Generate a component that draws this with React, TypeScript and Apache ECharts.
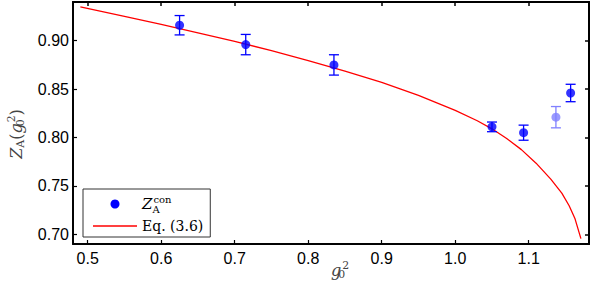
import React, { useEffect, useRef } from "react";
import * as echarts from "echarts";

// measured data Z_A^con
const gx = [0.625, 0.715, 0.835, 1.05, 1.093, 1.157];
const zA = [0.916, 0.896, 0.875, 0.811, 0.805, 0.846];
const zErr = [0.01, 0.0105, 0.0105, 0.005, 0.0078, 0.009];
// faded point
const gxFaded = [1.137];
const zFaded = [0.821];
const errFaded = [0.011];
// Eq. (3.6) curve
const eqX = [0.49, 0.55, 0.6, 0.65, 0.7, 0.75, 0.8, 0.85, 0.9, 0.95, 1.0, 1.03, 1.05, 1.07, 1.09, 1.11, 1.13, 1.145, 1.155, 1.163, 1.171];
const eqY = [0.935, 0.9251, 0.9168, 0.9082, 0.8993, 0.8897, 0.8795, 0.8685, 0.857, 0.8435, 0.828, 0.8173, 0.809, 0.799, 0.7875, 0.7735, 0.757, 0.7425, 0.7295, 0.716, 0.6955];
const xTicks = [0.5, 0.6, 0.7, 0.8, 0.9, 1.0, 1.1];
const yTicks = [0.7, 0.75, 0.8, 0.85, 0.9];

const SANS = "Liberation Sans";
const SERIF = "DejaVu Serif";

const GRID = { left: 73, right: 10, top: 2, bottom: 40 };
const W = 599;
const H = 284;

function errRender(color: string) {
  return (params: any, api: any) => {
    const x = api.value(0);
    const y = api.value(1);
    const e = api.value(2);
    const t = api.coord([x, y + e]);
    const b = api.coord([x, y - e]);
    const hw = 5;
    const st = { stroke: color, lineWidth: 1.3 };
    return {
      type: "group",
      children: [
        { type: "line", shape: { x1: t[0], y1: t[1], x2: b[0], y2: b[1] }, style: st },
        { type: "line", shape: { x1: t[0] - hw, y1: t[1], x2: t[0] + hw, y2: t[1] }, style: st },
        { type: "line", shape: { x1: b[0] - hw, y1: b[1], x2: b[0] + hw, y2: b[1] }, style: st },
      ],
    };
  };
}

const nameRich = (color: string, size: number) => ({
  i: { fontFamily: SERIF, fontStyle: "italic", fontSize: size, fill: color, color, lineHeight: 24, verticalAlign: "middle" },
  r: { fontFamily: SERIF, fontSize: size, fill: color, color, lineHeight: 24, verticalAlign: "middle" },
  A: { fontFamily: SERIF, fontSize: size * 0.68, fill: color, color, lineHeight: 24, verticalAlign: "bottom", padding: [0, 0, 2, 0] },
  sub: { fontFamily: SERIF, fontSize: size * 0.68, fill: color, color, lineHeight: 24, verticalAlign: "bottom", width: 1, padding: [0, 0, 2, 0] },
  sup: { fontFamily: SERIF, fontSize: size * 0.68, fill: color, color, lineHeight: 24, verticalAlign: "top", padding: [2, 0, 0, 0] },
});

export default function App() {
  const ref = useRef<HTMLDivElement>(null);
  useEffect(() => {
    if (!ref.current) return;
    const chart = echarts.init(ref.current, null, { renderer: "svg" });
    chart.setOption({
      animation: false,
      grid: {
        ...GRID,
        outerBoundsMode: "none",
        show: true,
        borderColor: "#000",
        borderWidth: 1.5,
      },
      xAxis: [
        {
          type: "value",
          position: "bottom",
          min: 0.48,
          max: 1.182,
          axisLine: { show: true, onZero: false, lineStyle: { color: "#000", width: 1.5 } },
          axisTick: { show: true, inside: true, length: 4, lineStyle: { color: "#000", width: 1.2 }, customValues: xTicks },
          axisLabel: {
            show: true,
            margin: 6,
            fontFamily: SANS,
            fontSize: 16,
            color: "#000",
            customValues: xTicks,
            formatter: (v: number) => v.toFixed(1),
          },
          splitLine: { show: false },
        },
        {
          type: "value",
          position: "top",
          min: 0.48,
          max: 1.182,
          axisLine: { show: true, lineStyle: { color: "#000", width: 2 } },
          axisTick: { show: true, inside: true, length: 4, lineStyle: { color: "#000", width: 1.5 } },
          axisLabel: { show: false },
          splitLine: { show: false },
        },
      ],
      yAxis: [
        {
          type: "value",
          position: "left",
          min: 0.69,
          max: 0.94,
          axisLine: { show: true, onZero: false, lineStyle: { color: "#000", width: 1.5 } },
          axisTick: { show: true, inside: true, length: 4, lineStyle: { color: "#000", width: 1.2 }, customValues: yTicks },
          axisLabel: {
            show: true,
            margin: 4,
            fontFamily: SANS,
            fontSize: 16,
            color: "#000",
            customValues: yTicks,
            formatter: (v: number) => v.toFixed(2),
          },
          splitLine: { show: false },
        },
        {
          type: "value",
          position: "right",
          min: 0.69,
          max: 0.94,
          axisLine: { show: true, lineStyle: { color: "#000", width: 2 } },
          axisTick: { show: true, inside: true, length: 4, lineStyle: { color: "#000", width: 1.5 } },
          axisLabel: { show: false },
          splitLine: { show: false },
        },
      ],
      graphic: [
        {
          type: "rect",
          z: 100,
          silent: true,
          shape: {
            x: GRID.left,
            y: GRID.top,
            width: W - GRID.left - GRID.right,
            height: H - GRID.top - GRID.bottom,
          },
          style: { fill: "none", stroke: "#000", lineWidth: 1.5 },
        },
        {
          type: "text",
          x: 16,
          y: 134,
          rotation: Math.PI / 2,
          style: {
            text: "{i|Z}{A|A}{r|(}{i|g}{sub|0}{sup|2}{r|)}",
            rich: nameRich("#444", 16),
            align: "center",
            verticalAlign: "middle",
          },
        },
        {
          type: "text",
          x: 340,
          y: 270,
          style: {
            text: "{i|g}{sub|0}{sup|2}",
            rich: nameRich("#444", 16),
            align: "center",
            verticalAlign: "middle",
          },
        },
      ],
      legend: {
        left: 83,
        top: 189,
        orient: "vertical",
        backgroundColor: "#fff",
        borderColor: "#333",
        borderWidth: 1,
        borderRadius: 0,
        padding: [3, 7, 4, 10],
        itemGap: 3,
        itemWidth: 44,
        itemHeight: 9,
        data: [
          { name: "Zcon", icon: "circle" },
          { name: "Eq. (3.6)", icon: "path://M0,0H44V1.3H0Z" },
        ],
        formatter: (n: string) => (n === "Zcon" ? "{z|Z}{sub|A}{sup|con}" : "{t|" + n + "}"),
        textStyle: {
          rich: {
            z: { fontFamily: SERIF, fontStyle: "italic", fontSize: 15, color: "#000", lineHeight: 24, verticalAlign: "middle" },
            sub: { fontFamily: SERIF, fontSize: 10, color: "#000", lineHeight: 24, verticalAlign: "bottom", width: 1, padding: [0, 0, 2, 0] },
            sup: { fontFamily: SERIF, fontSize: 10, color: "#000", lineHeight: 24, verticalAlign: "top", padding: [2, 0, 0, 0] },
            t: { fontFamily: SERIF, fontSize: 14, color: "#000", lineHeight: 18 },
          },
        },
      },
      series: [
        {
          name: "Eq. (3.6)",
          type: "line",
          data: eqX.map((x, i) => [x, eqY[i]]),
          symbol: "none",
          smooth: false,
          lineStyle: { color: "#ff0000", width: 1.3 },
          itemStyle: { color: "#ff0000" },
          z: 2,
        },
        {
          name: "Zcon",
          type: "custom",
          renderItem: errRender("#0000ff"),
          data: gx.map((x, i) => [x, zA[i], zErr[i]]),
          encode: { x: 0, y: 1 },
          itemStyle: { color: "#0000ff" },
          z: 3,
        },
        {
          name: "faded-err",
          type: "custom",
          renderItem: errRender("#8080ff"),
          data: gxFaded.map((x, i) => [x, zFaded[i], errFaded[i]]),
          encode: { x: 0, y: 1 },
          z: 3,
        },
        {
          name: "Zcon",
          type: "scatter",
          data: gx.map((x, i) => [x, zA[i]]),
          symbol: "circle",
          symbolSize: 9,
          itemStyle: { color: "#0000ff" },
          z: 4,
        },
        {
          name: "faded",
          type: "scatter",
          data: gxFaded.map((x, i) => [x, zFaded[i]]),
          symbol: "circle",
          symbolSize: 9,
          itemStyle: { color: "#8080ff" },
          z: 4,
        },
        {
          name: "frame",
          type: "line",
          xAxisIndex: 1,
          yAxisIndex: 1,
          data: [],
          symbol: "none",
        },
      ],
    });
    return () => chart.dispose();
  }, []);
  return <div ref={ref} style={{ width: W, height: H, position: "absolute", left: 0, top: 0 }} />;
}
